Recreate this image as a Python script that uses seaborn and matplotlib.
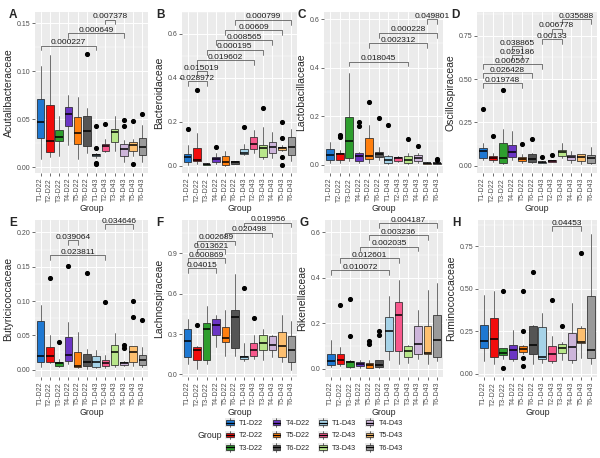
import numpy as np
import seaborn as sns
import matplotlib
matplotlib.use("Agg")
import matplotlib.pyplot as plt
from matplotlib.patches import Patch, Rectangle
from matplotlib.lines import Line2D
from matplotlib.legend_handler import HandlerBase
from matplotlib.ticker import FormatStrFormatter, MultipleLocator

groups = ["T1-D22", "T2-D22", "T3-D22", "T4-D22", "T5-D22", "T6-D22",
          "T1-D43", "T2-D43", "T3-D43", "T4-D43", "T5-D43", "T6-D43"]
colors = ["#1E78D2", "#F20C0C", "#2E9E2E", "#6B35C4", "#FF7F0E", "#555555",
          "#A6D3E8", "#F7588C", "#B8E68A", "#CDB5DA", "#FDBF6F", "#9A9A9A"]

# --- A: Acutalibacteraceae
A_lo = [0.009, 0.011, 0.012, 0.023, 0.009, 0.015, 0.010, 0.0155, 0.017, 0.005, 0.012, 0.005]
A_q1 = [0.030, 0.0155, 0.0276, 0.043, 0.024, 0.022, 0.0114, 0.0166, 0.026, 0.012, 0.017, 0.013]
A_med = [0.047, 0.0276, 0.032, 0.056, 0.036, 0.038, 0.0128, 0.022, 0.037, 0.019, 0.023, 0.0207]
A_q3 = [0.0707, 0.065, 0.039, 0.063, 0.052, 0.053, 0.0138, 0.024, 0.040, 0.024, 0.026, 0.030]
A_hi = [0.106, 0.117, 0.053, 0.075, 0.073, 0.062, 0.015, 0.029, 0.053, 0.028, 0.029, 0.044]
A_out = [[], [], [], [], [], [0.118], [0.043, 0.020, 0.004, 0.003], [0.0455], [],
         [0.049, 0.043], [0.048, 0.003], [0.056]]
A_sig = [(1, 7, 0.127, "0.000227"), (4, 10, 0.140, "0.000649"), (8, 9, 0.154, "0.007378")]

# --- B: Bacteroidaceae
B_lo = [0.005, 0.009, 0.004, 0.008, 0.000, 0.006, 0.050, 0.057, 0.030, 0.035, 0.066, 0.020]
B_q1 = [0.015, 0.020, 0.005, 0.015, 0.005, 0.009, 0.054, 0.075, 0.042, 0.057, 0.072, 0.050]
B_med = [0.042, 0.027, 0.007, 0.030, 0.015, 0.015, 0.057, 0.098, 0.082, 0.087, 0.080, 0.087]
B_q3 = [0.054, 0.080, 0.009, 0.039, 0.045, 0.020, 0.075, 0.133, 0.095, 0.110, 0.087, 0.130]
B_hi = [0.095, 0.148, 0.011, 0.060, 0.065, 0.022, 0.100, 0.163, 0.178, 0.155, 0.094, 0.166]
B_out = [[0.166], [0.347], [], [0.087], [], [], [0.175], [], [0.265], [],
         [0.197, 0.128, 0.040, 0.005], []]
B_sig = [(1, 3, 0.385, "0.028972"), (2, 3, 0.43, "0.015019"), (2, 8, 0.48, "0.019602"),
         (3, 9, 0.528, "0.000195"), (4, 10, 0.573, "0.008565"), (5, 11, 0.618, "0.00609"),
         (6, 12, 0.665, "0.000799")]

# --- C: Lactobacillaceae
C_lo = [0.010, 0.007, 0.018, 0.010, 0.010, 0.021, 0.004, 0.012, 0.004, 0.007, 0.003, 0.004]
C_q1 = [0.021, 0.021, 0.027, 0.018, 0.023, 0.034, 0.010, 0.016, 0.010, 0.016, 0.005, 0.006]
C_med = [0.041, 0.045, 0.100, 0.037, 0.037, 0.044, 0.021, 0.027, 0.021, 0.027, 0.007, 0.008]
C_q3 = [0.064, 0.051, 0.199, 0.048, 0.110, 0.055, 0.038, 0.034, 0.037, 0.040, 0.010, 0.010]
C_hi = [0.096, 0.060, 0.380, 0.055, 0.164, 0.075, 0.041, 0.038, 0.050, 0.048, 0.012, 0.012]
C_out = [[], [0.125, 0.115], [], [0.175, 0.160], [0.257], [0.193], [0.165], [], [0.108],
         [0.078], [], [0.025, 0.020]]
C_sig = [(3, 9, 0.425, "0.018045"), (5, 11, 0.50, "0.002312"), (6, 12, 0.544, "0.000228"),
         (11, 12, 0.60, "0.049801")]

# --- D: Oscillospiraceae
D_lo = [0.033, 0.023, 0.010, 0.033, 0.013, 0.013, 0.013, 0.020, 0.042, 0.017, 0.010, 0.010]
D_q1 = [0.046, 0.033, 0.017, 0.052, 0.029, 0.023, 0.015, 0.023, 0.058, 0.033, 0.029, 0.017]
D_med = [0.087, 0.046, 0.042, 0.081, 0.040, 0.038, 0.019, 0.027, 0.077, 0.048, 0.052, 0.042]
D_q3 = [0.100, 0.058, 0.129, 0.120, 0.052, 0.065, 0.023, 0.033, 0.090, 0.062, 0.065, 0.062]
D_hi = [0.130, 0.075, 0.210, 0.200, 0.067, 0.071, 0.025, 0.035, 0.129, 0.087, 0.067, 0.106]
D_out = [[0.325], [0.173], [0.437], [], [0.125], [0.154], [0.052], [0.062], [], [], [], []]
D_sig = [(1, 5, 0.475, "0.019748"), (1, 6, 0.533, "0.026428"), (1, 7, 0.587, "0.000507"),
         (4, 5, 0.638, "0.029186"), (4, 5, 0.69, "0.038865"), (7, 9, 0.729, "0.00133"),
         (8, 9, 0.79, "0.006778"), (9, 12, 0.844, "0.035688")]

# --- E: Butyricicoccaceae
E_lo = [0.004, 0.009, 0.004, 0.008, 0.002, 0.0015, 0.002, 0.002, 0.004, 0.006, 0.005, 0.004]
E_q1 = [0.011, 0.011, 0.006, 0.012, 0.004, 0.005, 0.004, 0.005, 0.007, 0.007, 0.011, 0.007]
E_med = [0.020, 0.020, 0.009, 0.021, 0.006, 0.011, 0.011, 0.009, 0.026, 0.009, 0.026, 0.0146]
E_q3 = [0.0706, 0.033, 0.011, 0.048, 0.026, 0.023, 0.020, 0.0136, 0.0365, 0.011, 0.034, 0.022]
E_hi = [0.094, 0.050, 0.016, 0.070, 0.055, 0.030, 0.028, 0.022, 0.054, 0.013, 0.035, 0.033]
E_out = [[], [0.134], [0.041], [0.151], [], [0.141], [], [0.099], [], [0.0365, 0.031],
         [0.100, 0.077], [0.072]]
E_sig = [(2, 8, 0.167, "0.023811"), (4, 5, 0.189, "0.039064"), (8, 11, 0.212, "0.034646")]

# --- F: Lachnospiraceae
F_lo = [0.08, 0.042, 0.075, 0.204, 0.14, 0.14, 0.10, 0.117, 0.104, 0.13, 0.09, 0.035]
F_q1 = [0.13, 0.11, 0.104, 0.29, 0.24, 0.196, 0.117, 0.134, 0.18, 0.18, 0.13, 0.092]
F_med = [0.25, 0.18, 0.34, 0.37, 0.274, 0.428, 0.13, 0.18, 0.23, 0.216, 0.21, 0.18]
F_q3 = [0.34, 0.204, 0.383, 0.41, 0.353, 0.48, 0.14, 0.23, 0.296, 0.283, 0.316, 0.283]
F_hi = [0.41, 0.21, 0.51, 0.44, 0.48, 0.746, 0.23, 0.29, 0.34, 0.29, 0.44, 0.40]
F_out = [[], [0.37], [], [], [], [], [0.64], [0.42], [], [], [], []]
F_sig = [(1, 4, 0.789, "0.04015"), (1, 5, 0.863, "0.000869"), (2, 5, 0.93, "0.013621"),
         (2, 6, 0.995, "0.002689"), (5, 10, 1.055, "0.020498"), (7, 12, 1.13, "0.019956")]

# --- G: Rikenellaceae
G_lo = [0.007, 0.010, 0.003, 0.004, 0.003, 0.003, 0.037, 0.022, 0.025, 0.044, 0.019, 0.034]
G_q1 = [0.015, 0.019, 0.007, 0.012, 0.004, 0.007, 0.076, 0.076, 0.051, 0.066, 0.063, 0.051]
G_med = [0.034, 0.037, 0.029, 0.022, 0.015, 0.015, 0.165, 0.238, 0.076, 0.110, 0.069, 0.125]
G_q3 = [0.063, 0.066, 0.034, 0.029, 0.025, 0.037, 0.225, 0.294, 0.100, 0.188, 0.187, 0.235]
G_hi = [0.125, 0.096, 0.037, 0.037, 0.037, 0.040, 0.320, 0.390, 0.103, 0.257, 0.345, 0.375]
G_out = [[], [0.28], [0.306, 0.145], [], [0.12, 0.11], [0.165, 0.15], [], [], [], [], [], []]
G_sig = [(1, 7, 0.434, "0.010072"), (2, 8, 0.485, "0.012601"), (4, 10, 0.537, "0.002035"),
         (5, 11, 0.588, "0.003236"), (6, 12, 0.64, "0.004187")]

# --- H: Ruminococcaceae
H_lo = [0.074, 0.059, 0.084, 0.074, 0.113, 0.059, 0.065, 0.061, 0.078, 0.065, 0.094, 0.059]
H_q1 = [0.153, 0.100, 0.108, 0.088, 0.127, 0.113, 0.084, 0.074, 0.119, 0.080, 0.178, 0.094]
H_med = [0.192, 0.205, 0.119, 0.137, 0.147, 0.168, 0.100, 0.113, 0.153, 0.158, 0.186, 0.139]
H_q3 = [0.284, 0.329, 0.149, 0.168, 0.162, 0.280, 0.274, 0.162, 0.172, 0.240, 0.270, 0.460]
H_hi = [0.466, 0.485, 0.149, 0.260, 0.168, 0.286, 0.358, 0.220, 0.186, 0.417, 0.280, 0.824]
H_out = [[], [], [0.485, 0.035], [], [0.49, 0.25, 0.094, 0.045], [0.60], [], [0.436], [0.28],
         [], [0.71], []]
H_sig = [(8, 11, 0.87, "0.04453")]

# panel: letter, family, stats, brackets, ylim, tick step, format, axes rect (px: left, top, right, bottom)
panels = [
    ("A", "Acutalibacteraceae", (A_lo, A_q1, A_med, A_q3, A_hi, A_out), A_sig, (-0.006, 0.162), 0.05, "%.2f", (35, 12, 148, 173)),
    ("B", "Bacteroidaceae", (B_lo, B_q1, B_med, B_q3, B_hi, B_out), B_sig, (-0.033, 0.70), 0.2, "%.1f", (182, 12, 297, 173)),
    ("C", "Lactobacillaceae", (C_lo, C_q1, C_med, C_q3, C_hi, C_out), C_sig, (-0.033, 0.629), 0.2, "%.1f", (324, 12, 443, 173)),
    ("D", "Oscillospiraceae", (D_lo, D_q1, D_med, D_q3, D_hi, D_out), D_sig, (-0.042, 0.887), 0.25, "%.2f", (477, 12, 597, 173)),
    ("E", "Butyricicoccaceae", (E_lo, E_q1, E_med, E_q3, E_hi, E_out), E_sig, (-0.0107, 0.218), 0.05, "%.2f", (35, 220, 148, 377)),
    ("F", "Lachnospiraceae", (F_lo, F_q1, F_med, F_q3, F_hi, F_out), F_sig, (-0.02, 1.149), 0.3, "%.1f", (182, 220, 297, 377)),
    ("G", "Rikenellaceae", (G_lo, G_q1, G_med, G_q3, G_hi, G_out), G_sig, (-0.037, 0.654), 0.2, "%.1f", (325, 220, 443, 377)),
    ("H", "Ruminococcaceae", (H_lo, H_q1, H_med, H_q3, H_hi, H_out), H_sig, (-0.02, 0.906), 0.25, "%.2f", (478, 220, 597, 377)),
]

sns.set_theme(style="darkgrid", rc={"axes.facecolor": "#EBEBEB", "grid.color": "white"})
plt.rcParams["font.family"] = ["Liberation Sans", "DejaVu Sans"]

W, H = 600, 458
fig = plt.figure(figsize=(W / 100, H / 100), dpi=100)
fig.patch.set_facecolor("white")
pos = np.arange(1, len(groups) + 1)

for letter, family, (lo, q1, med, q3, hi, out), sig, ylim, step, fmt, (l, t, r, b) in panels:
    ax = fig.add_axes([l / W, 1 - b / H, (r - l) / W, (b - t) / H])
    stats = [dict(whislo=lo[i], q1=q1[i], med=med[i], q3=q3[i], whishi=hi[i], fliers=out[i])
             for i in range(len(groups))]
    bp = ax.bxp(stats, positions=pos, widths=0.8, patch_artist=True, showcaps=False,
                boxprops=dict(linewidth=0.5, edgecolor="#1a1a1a"),
                whiskerprops=dict(linewidth=0.5, color="#333333"),
                medianprops=dict(color="black", linewidth=1.1),
                flierprops=dict(marker="o", markerfacecolor="black", markeredgecolor="black",
                                markersize=2.7))
    for patch, c in zip(bp["boxes"], colors):
        patch.set_facecolor(c)

    span = ylim[1] - ylim[0]
    tip = 0.03 * span
    for i, j, y, lab in sig:
        ax.plot([i, i, j, j], [y - tip, y, y, y - tip], color="#444444", lw=0.5, clip_on=False)
        ax.text((i + j) / 2, y - 0.004 * span, lab, ha="center", va="bottom", fontsize=6,
                color="#1a1a1a", clip_on=False)

    ax.set_xlim(0.4, 12.6)
    ax.set_ylim(*ylim)
    ax.set_xticks(pos)
    ax.set_xticklabels(groups, rotation=90, ha="center", va="top")
    ax.yaxis.set_major_locator(MultipleLocator(step))
    ax.yaxis.set_minor_locator(MultipleLocator(step / 2))
    ax.yaxis.set_major_formatter(FormatStrFormatter(fmt))
    ax.set_axisbelow(True)
    ax.grid(which="major", color="white", lw=0.7)
    ax.grid(which="minor", axis="y", color="white", lw=0.35)
    ax.tick_params(axis="both", which="major", bottom=True, left=True, length=2, width=0.5,
                   color="#333333", labelsize=5, labelcolor="#4D4D4D", pad=1.5)
    ax.tick_params(axis="both", which="minor", length=0)
    for s in ax.spines.values():
        s.set_visible(False)
    ax.set_ylabel(family, fontsize=7.5, labelpad=2)
    ax.set_xlabel("Group", fontsize=6.3, labelpad=2)
    fig.text((l - 26) / W, 1 - (t + 3) / H, letter, fontsize=8.5, fontweight="bold",
             ha="left", va="center")


class BoxKey(HandlerBase):
    def create_artists(self, legend, orig_handle, xdescent, ydescent, width, height, fontsize, trans):
        x0, y0 = -xdescent, -ydescent
        bg = Rectangle((x0, y0), width, height, facecolor="#EBEBEB", edgecolor="none", transform=trans)
        box = Rectangle((x0 + 0.1 * width, y0 + 0.22 * height), 0.8 * width, 0.56 * height,
                        facecolor=orig_handle.get_facecolor(), edgecolor="#1a1a1a", lw=0.5, transform=trans)
        xm = x0 + width / 2
        med = Line2D([x0 + 0.1 * width, x0 + 0.9 * width], [y0 + height / 2] * 2, color="black", lw=0.9, transform=trans)
        w1 = Line2D([xm, xm], [y0, y0 + 0.22 * height], color="#333333", lw=0.5, transform=trans)
        w2 = Line2D([xm, xm], [y0 + 0.78 * height, y0 + height], color="#333333", lw=0.5, transform=trans)
        return [bg, box, med, w1, w2]


handles = [Patch(facecolor=c) for c in colors]
fig.legend(handles, groups, ncol=4, loc="center", bbox_to_anchor=(314 / W, 1 - 435 / H),
           frameon=False, fontsize=5.2, handlelength=1.3, handleheight=1.5, handletextpad=0.6,
           columnspacing=1.2, labelspacing=0.5, handler_map={Patch: BoxKey()})
fig.text(210 / W, 1 - 435.5 / H, "Group", fontsize=6.3, ha="center", va="center")

fig.savefig("out.png", dpi=100)
